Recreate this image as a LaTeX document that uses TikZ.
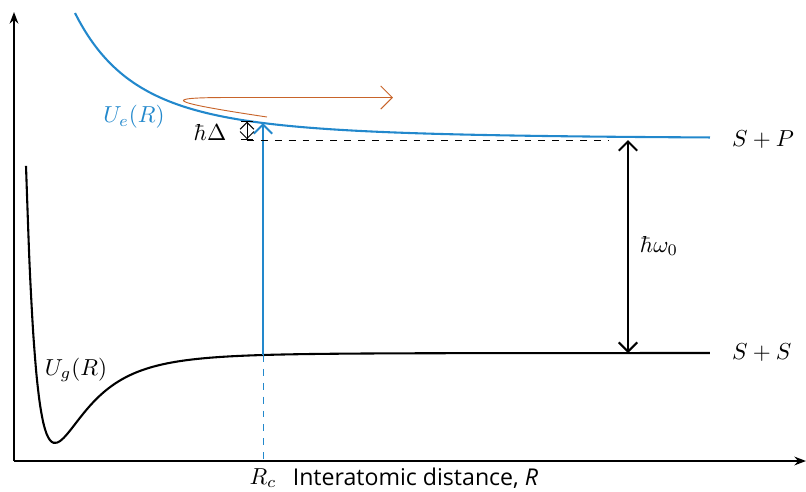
\documentclass[tikz,border=0pt]{standalone}
\usepackage{fontspec}
\usepackage{xcolor}
\usetikzlibrary{arrows.meta,positioning,calc}
\newfontfamily\axisfont{Open Sans}
\definecolor{ueblue}{HTML}{2288CC}
\definecolor{loopor}{HTML}{C8642A}
\tikzset{
  axisline/.style={
    -{Stealth[length=5pt]}, line width=0.9pt, color=black
  },
  potcurve/.style={
    line width=0.9pt, color=#1
  },
  potcurve/.default=black,
  levelarrow/.style={
    {Straight Barb[length=4pt]}-{Straight Barb[length=4pt]}, line width=0.9pt, color=#1
  },
  levelarrow/.default=black,
  guideline/.style={
    dashed, thin, color=#1
  },
  guideline/.default=black,
  potlabel/.style={
    font=\normalsize, color=#1
  },
  potlabel/.default=black,
}
\begin{document}
\begin{tikzpicture}[x=0.0152cm, y=-0.0152cm,
  declare function={ug(\x)=353-90*((186.6/(\x+131.6))^12-2*(186.6/(\x+131.6))^6);
                    ue(\x)=139-16*(378/(\x+115))^3;}]
\useasboundingbox (0,0) rectangle (806,491);
% Axes
\coordinate (origin) at (14,461);
\coordinate (ytop) at (14,12);
\coordinate (xend) at (806,461);
\draw[axisline] (origin) -- (ytop);
\draw[axisline] (origin) -- (xend);

% Ground and excited potentials
\draw[potcurve] plot[domain=26:710, samples=200, smooth] (\x,{ug(\x)});
\draw[potcurve=ueblue] plot[domain=75:710, samples=150, smooth] (\x,{ue(\x)});
\node[potlabel] (ug-lab) at (76,370) {$U_g(R)$};
\node[potlabel=ueblue] (ue-lab) at (134,117) {$U_e(R)$};
\node[potlabel, anchor=west] (sp-lab) at (724,140) {$S+P$};
\node[potlabel, anchor=west] (ss-lab) at (724,353) {$S+S$};

% Condon point
\coordinate (rc-g) at (263,{ug(263)});
\coordinate (rc-e) at (263,{ue(263)});
\coordinate (rc-ax) at (263,461);
\draw[guideline=ueblue] (rc-g) -- (rc-ax);
\draw[-{Straight Barb[length=4pt]}, line width=0.9pt, ueblue] (rc-g) -- (rc-e);
\node (rc-lab) at (263,478) {$R_c$};
\node[font=\axisfont, right=0pt of rc-lab] (ax-lab) {Interatomic distance, \textit{R}};

% Detuning
\coordinate (det-top) at (247,{ue(247)});
\coordinate (det-bot) at (247,140);
\coordinate (det-end) at (608,140);
\draw[guideline] (det-bot) -- (det-end);
\draw[{Bar[width=5pt]Straight Barb[length=3pt]}-{Straight Barb[length=3pt]Bar[width=5pt]}, thin] (det-top) -- (det-bot);
\node (det-lab) at (210,132) {$\hbar\Delta$};

% Atomic transition
\coordinate (w-top) at (628,140);
\coordinate (w-bot) at (628,353);
\draw[levelarrow] (w-top) -- (w-bot);
\node (w-lab) at (659,246) {$\hbar\omega_0$};

% Flux out
\coordinate (out-start) at (267,117);
\coordinate (out-end) at (393,97.5);
\draw[loopor, thin, -{Straight Barb[length=5pt]}] (out-start) .. controls (160,101) and (165,97.5) .. (230,97.5) -- (out-end);
\end{tikzpicture}
\end{document}
